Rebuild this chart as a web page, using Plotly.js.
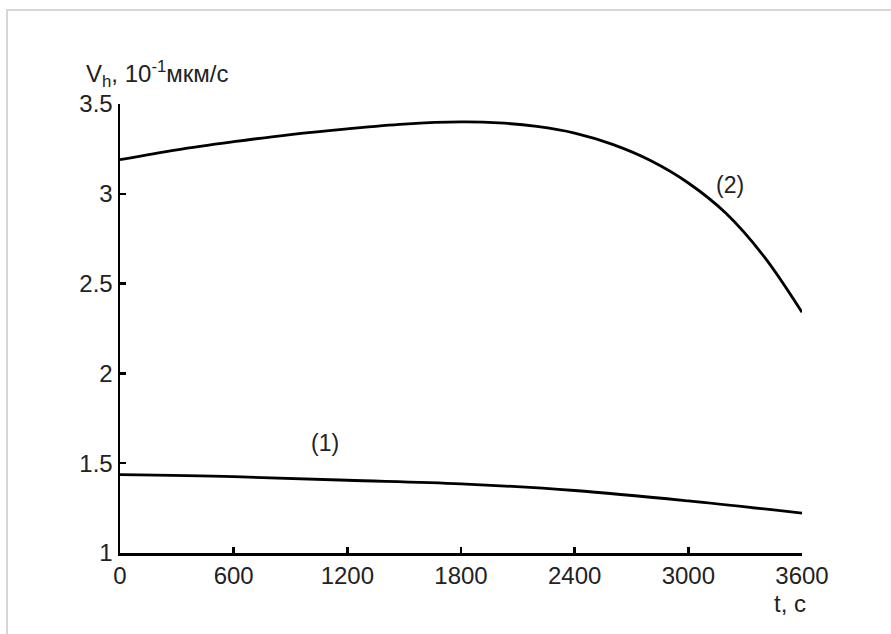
<!DOCTYPE html>
<html>
<head>
<meta charset="utf-8">
<script src="https://cdn.plot.ly/plotly-3.0.1.min.js"></script>
<style>
  html, body { margin: 0; padding: 0; background: #ffffff; }
  #frame { position: absolute; left: 6px; top: 9px; width: 900px; height: 640px;
           border-top: 2px solid #d6d6d6; border-left: 2px solid #d6d6d6; box-sizing: border-box; }
  #chart { position: absolute; left: 0; top: 0; width: 891px; height: 634px; }
</style>
</head>
<body>
<div id="frame"></div>
<div id="chart"></div>
<script>
// Time, s
const t1 = [0, 600, 1200, 1800, 2400, 3000, 3600];
// Curve (1)
const v1 = [1.436, 1.425, 1.405, 1.385, 1.348, 1.290, 1.222];
// Curve (2)
const t2 = [0, 300, 600, 900, 1200, 1500, 1800, 2000, 2200, 2400, 2600, 2800, 3000, 3200, 3400, 3600];
const v2 = [3.19, 3.245, 3.29, 3.33, 3.362, 3.388, 3.40, 3.395, 3.375, 3.338, 3.275, 3.185, 3.06, 2.89, 2.65, 2.34];

const xTicks = [0, 600, 1200, 1800, 2400, 3000, 3600];
const xTickText = ["0", "600", "1200", "1800", "2400", "3000", "3600"];
const yTicks = [1, 1.5, 2, 2.5, 3, 3.5];
const yTickText = ["1", "1.5", "2", "2.5", "3", "3.5"];

const curveLabels = ["(1)", "(2)"];
const labelX = [1080, 3220];
const labelY = [1.61, 3.05];

const font = "Liberation Sans, Arial, sans-serif";

const traces = [
  { x: t1, y: v1, mode: "lines", line: { color: "#000", width: 2.8, shape: "spline", smoothing: 1 }, showlegend: false, hoverinfo: "skip" },
  { x: t2, y: v2, mode: "lines", line: { color: "#000", width: 2.8, shape: "spline", smoothing: 1 }, showlegend: false, hoverinfo: "skip" }
];

const axisCommon = {
  showgrid: false, zeroline: false, showline: true, linecolor: "#000", linewidth: 2.5,
  ticks: "inside", ticklen: 6, tickwidth: 2.5, tickcolor: "#000",
  tickfont: { family: font, size: 24, color: "#222" }, mirror: false, fixedrange: true
};

const annotations = curveLabels.map((s, i) => ({
  x: labelX[i], y: labelY[i], xref: "x", yref: "y", text: s, showarrow: false,
  font: { family: font, size: 23, color: "#222" }
}));
annotations.push({
  x: 1.0, y: -0.1, xref: "paper", yref: "paper", xanchor: "center", yanchor: "top",
  text: "t, c", showarrow: false, font: { family: font, size: 24, color: "#222" }, xshift: -12, yshift: 10
});
annotations.push({
  x: 0, y: 1, xref: "paper", yref: "paper", xanchor: "left", yanchor: "bottom",
  text: "V<sub>h</sub>, 10<sup>-1</sup>мкм/с", showarrow: false,
  font: { family: font, size: 24, color: "#222" }, xshift: -36, yshift: 11
});

const layout = {
  width: 891, height: 634,
  margin: { l: 120, r: 89, t: 104, b: 81 },
  paper_bgcolor: "rgba(0,0,0,0)", plot_bgcolor: "rgba(0,0,0,0)",
  xaxis: Object.assign({}, axisCommon, { range: [0, 3600], tickvals: xTicks, ticktext: xTickText }),
  yaxis: Object.assign({}, axisCommon, { range: [1, 3.5], tickvals: yTicks, ticktext: yTickText }),
  annotations: annotations
};

Plotly.newPlot("chart", traces, layout, { displayModeBar: false, staticPlot: true });
</script>
</body>
</html>
